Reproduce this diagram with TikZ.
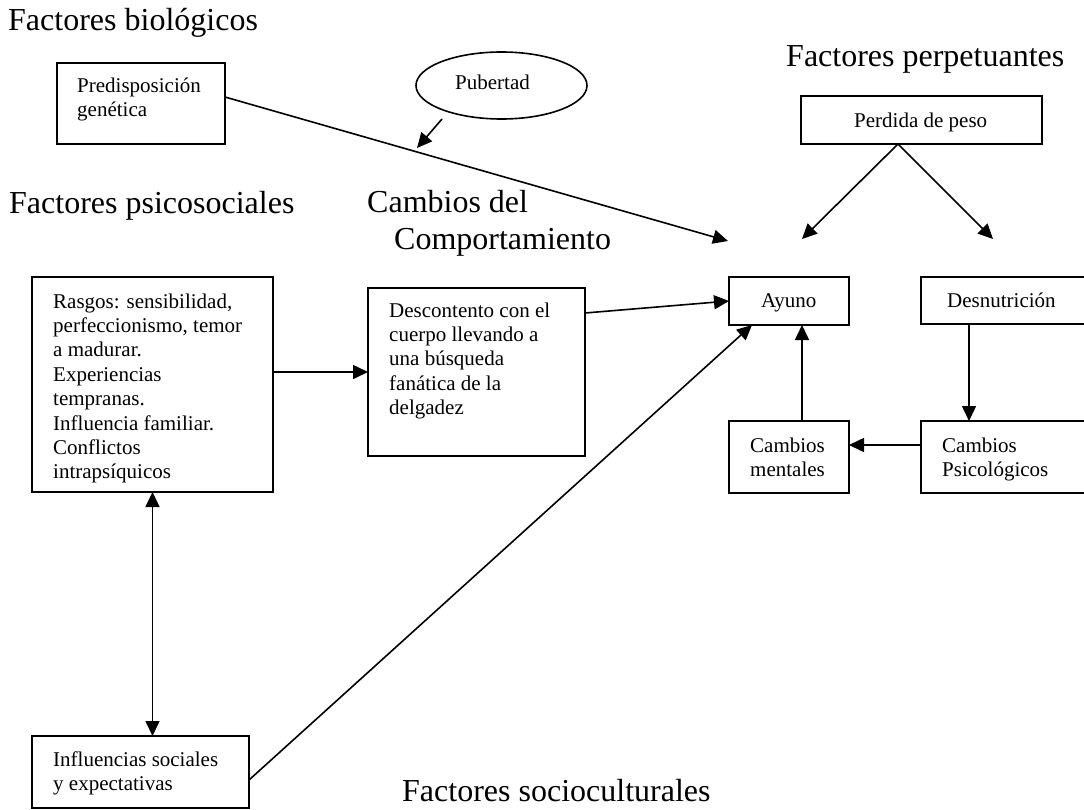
\documentclass[tikz,border=0pt]{standalone}
\usepackage{fontspec}
\setmainfont{Liberation Serif}
\usetikzlibrary{arrows.meta,calc,shapes.geometric}
\begin{document}
\begin{tikzpicture}[x=1pt,y=-1pt,
  box/.style={draw,line width=1.8pt,inner sep=0pt,outer sep=0pt,rectangle},
  heading/.style={inner sep=0pt,anchor=base west,font=\fontsize{32}{36}\selectfont},
  boxtxt/.style={inner sep=0pt,align=left,anchor=north west,font=\fontsize{21}{24.4}\selectfont},
  onetxt/.style={inner sep=0pt,anchor=base west,font=\fontsize{21}{24.4}\selectfont},
  conn/.style={line width=1.6pt,-{Triangle[length=15pt,width=14pt]}},
  both/.style={line width=1.6pt,{Triangle[length=15pt,width=14pt]}-{Triangle[length=15pt,width=14pt]}},
  ]
\useasboundingbox (0,0) rectangle (1084,809);

% headings
\node[heading] (h1) at (8,30) {Factores biológicos};
\node[heading] (h2) at (9,213) {Factores psicosociales};
\node[heading] (h3) at (367,212) {Cambios del};
\node[heading] (h4) at (394,249) {Comportamiento};
\node[heading] (h5) at (786,66) {Factores perpetuantes};
\node[heading] (h6) at (402,801) {Factores socioculturales};

% boxes
\node[box,minimum width=168pt,minimum height=81pt] (pred) at (141,103.5) {};
\node[draw,ellipse,line width=1.6pt,inner sep=0pt,outer sep=0pt,minimum width=171pt,minimum height=67pt] (pub) at (501.5,85.5) {};
\node[box,minimum width=241pt,minimum height=215pt] (rasgos) at (152.5,384.5) {};
\node[box,minimum width=217pt,minimum height=168pt] (desc) at (476.5,372) {};
\node[box,minimum width=217pt,minimum height=72pt] (social) at (140.5,772) {};
\node[box,minimum width=241pt,minimum height=48pt] (perdida) at (921.5,120) {};
\node[box,minimum width=120pt,minimum height=48pt] (ayuno) at (789,301) {};
\node[box,minimum width=169pt,minimum height=47pt] (desnu) at (1005.5,300.5) {};
\node[box,minimum width=120pt,minimum height=72pt] (cm) at (789,457) {};
\node[box,minimum width=169pt,minimum height=72pt] (cp) at (1005.5,457) {};

% texts
\node[boxtxt] (tpred) at (77,74.9) {\strut Predisposición\\genética};
\node[onetxt] (tpub) at (455,89) {Pubertad};
\node[boxtxt] (trasgos) at (53,290.9) {\strut Rasgos: sensibilidad,\\perfeccionismo, temor\\a madurar.\\Experiencias\\tempranas.\\Influencia familiar.\\Conflictos\\intrapsíquicos};
\node[boxtxt] (tdesc) at (389,299.9) {\strut Descontento con el\\cuerpo llevando a\\una búsqueda\\fanática de la\\delgadez};
\node[boxtxt] (tsocial) at (53,748.9) {\strut Influencias sociales\\y expectativas};
\node[onetxt] (tperd) at (854,127) {Perdida de peso};
\node[onetxt] (tayuno) at (761,307) {Ayuno};
\node[onetxt] (tdesnu) at (947,307) {Desnutrición};
\node[boxtxt] (tcm) at (750,434.9) {\strut Cambios\\mentales};
\node[boxtxt] (tcp) at (942,434.9) {\strut Cambios\\Psicológicos};

% free ends
\coordinate (predend) at (728,241);
\coordinate (pubstart) at (442,119);
\coordinate (pubend) at (417,148);
\coordinate (perdL) at (802,239);
\coordinate (perdR) at (993,239);
\coordinate (perdS) at ([xshift=-23.5pt]perdida.south);
\coordinate (descE) at ($(desc.north east)+(0,25)$);
\coordinate (socE) at ($(social.east)+(0,8)$);
\coordinate (ayunoSW) at ($(ayuno.south west)+(23,0)$);
\coordinate (desnuS) at ($(desnu.south west)+(48,0)$);
\coordinate (cpW) at ([yshift=12pt]cp.west);
\coordinate (cmN) at ($(cm.north)+(13,0)$);

% connectors
\draw[conn] ([yshift=6.5pt]pred.east) -- (predend);
\draw[conn] (pubstart) -- (pubend);
\draw[conn] (perdS) -- (perdL);
\draw[conn] (perdS) -- (perdR);
\draw[conn] (descE) -- (ayuno.west);
\draw[conn] (rasgos.east |- desc.west) -- (desc.west);
\draw[both] (rasgos.south) -- (rasgos.south |- social.north);
\draw[conn] (socE) -- (ayunoSW);
\draw[conn] (desnuS) -- (desnuS |- cp.north);
\draw[conn] (cpW) -- (cm.east |- cpW);
\draw[conn] (cmN) -- (cmN |- ayuno.south);
\end{tikzpicture}
\end{document}
